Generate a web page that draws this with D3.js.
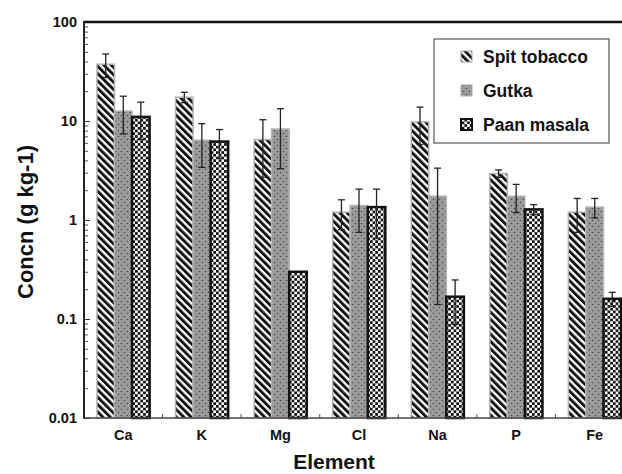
<!DOCTYPE html>
<html>
<head>
<meta charset="utf-8">
<script src="https://cdn.jsdelivr.net/npm/d3@7"></script>
<style>
  body { margin: 0; background: #fff; }
  svg { display: block; font-family: "Liberation Sans", Arial, sans-serif; }
</style>
</head>
<body>
<svg id="chart" width="622" height="474"></svg>
<script>
// data
const elements = ["Ca", "K", "Mg", "Cl", "Na", "P", "Fe"];
const series = ["Spit tobacco", "Gutka", "Paan masala"];
const spitTobacco = [37.5, 17.4, 6.5, 1.2, 9.8, 2.95, 1.2];
const spitErr = [10, 2.1, 3.8, 0.4, 4, 0.25, 0.45];
const gutka = [12.6, 6.4, 8.3, 1.4, 1.74, 1.74, 1.35];
const gutkaErr = [5.2, 3, 5, 0.65, 1.6, 0.55, 0.3];
const paanMasala = [11, 6.2, 0.3, 1.35, 0.168, 1.28, 0.16];
const paanErr = [4.5, 2, 0, 0.7, 0.08, 0.15, 0.026];
const yTicks = [0.01, 0.1, 1, 10, 100];

const values = [spitTobacco, gutka, paanMasala];
const errors = [spitErr, gutkaErr, paanErr];

const svg = d3.select("#chart");
const margin = {top: 22, left: 84, bottom: 56};
const plotRight = 634;   // frame runs past the picture's right edge
const height = 474 - margin.bottom;

// PATTERNS
const defs = svg.append("defs");
const stripes = defs.append("pattern")
  .attr("id", "stripes").attr("patternUnits", "userSpaceOnUse")
  .attr("width", 5.2).attr("height", 5.2)
  .attr("patternTransform", "rotate(-45)");
stripes.append("rect").attr("width", 5.2).attr("height", 5.2).attr("fill", "#fff");
stripes.append("rect").attr("width", 2.9).attr("height", 5.2).attr("fill", "#111");

const dots = defs.append("pattern")
  .attr("id", "dots").attr("patternUnits", "userSpaceOnUse")
  .attr("width", 6).attr("height", 6);
dots.append("rect").attr("width", 6).attr("height", 6).attr("fill", "#9b9b9b");
dots.append("circle").attr("cx", 1.5).attr("cy", 1.5).attr("r", 0.8).attr("fill", "#4a4a4a");
dots.append("circle").attr("cx", 4.5).attr("cy", 4.5).attr("r", 0.8).attr("fill", "#4a4a4a");

const checks = defs.append("pattern")
  .attr("id", "checks").attr("patternUnits", "userSpaceOnUse")
  .attr("width", 5.4).attr("height", 5.4);
checks.append("rect").attr("width", 5.4).attr("height", 5.4).attr("fill", "#fff");
checks.append("rect").attr("width", 2.7).attr("height", 2.7).attr("fill", "#111");
checks.append("rect").attr("x", 2.7).attr("y", 2.7).attr("width", 2.7).attr("height", 2.7).attr("fill", "#111");

const fills = ["url(#stripes)", "url(#dots)", "url(#checks)"];
const strokes = ["#b4b4b4", "#b4b4b4", "#111"];
const strokeW = [1.5, 1.5, 2.5];

// SCALES
const x0 = d3.scaleBand().domain(elements).range([margin.left, plotRight]);
const bw = x0.bandwidth();
const x1 = d3.scaleBand().domain(series).range([bw * 0.165, bw * 0.835]);
const y = d3.scaleLog().domain([0.01, 100]).range([height, margin.top]);

// BARS
series.forEach((s, si) => {
  const g = svg.append("g");
  g.selectAll("rect").data(elements).join("rect")
    .attr("x", d => x0(d) + x1(s))
    .attr("y", (d, i) => y(values[si][i]))
    .attr("width", x1.bandwidth())
    .attr("height", (d, i) => height - y(values[si][i]))
    .attr("fill", fills[si])
    .attr("stroke", strokes[si])
    .attr("stroke-width", strokeW[si]);
});

// ERROR BARS
series.forEach((s, si) => {
  elements.forEach((d, i) => {
    const e = errors[si][i];
    if (!e) return;
    const cx = x0(d) + x1(s) + x1.bandwidth() / 2;
    const v = values[si][i];
    const lo = y(Math.max(v - e, 0.01)), hi = y(v + e);
    const g = svg.append("g").attr("stroke", "#222").attr("stroke-width", 1.3);
    g.append("line").attr("x1", cx).attr("x2", cx).attr("y1", lo).attr("y2", hi);
    g.append("line").attr("x1", cx - 3.5).attr("x2", cx + 3.5).attr("y1", hi).attr("y2", hi);
    g.append("line").attr("x1", cx - 3.5).attr("x2", cx + 3.5).attr("y1", lo).attr("y2", lo);
  });
});

// Y AXIS
const minor = [];
for (let p = -2; p < 2; p++) for (let m = 2; m <= 9; m++) minor.push(m * Math.pow(10, p));
svg.append("g").attr("transform", `translate(${margin.left},0)`)
  .call(d3.axisLeft(y).tickValues(minor).tickSize(-4).tickFormat(""))
  .call(g => g.select(".domain").remove())
  .selectAll("line").attr("stroke", "#555");
svg.append("g").attr("transform", `translate(${margin.left},0)`)
  .call(d3.axisLeft(y).tickValues(yTicks).tickSize(-6).tickPadding(7)
    .tickFormat(d => String(d)))
  .call(g => g.select(".domain").remove())
  .call(g => g.selectAll("line").attr("stroke", "#333"))
  .selectAll("text")
  .attr("font-size", 14.5).attr("font-weight", "bold").attr("fill", "#111")
  .attr("font-family", "Liberation Sans, Arial, sans-serif");

// X AXIS
svg.append("g").attr("transform", `translate(0,${height})`)
  .call(d3.axisBottom(x0).tickSize(0).tickPadding(12))
  .call(g => g.select(".domain").remove())
  .selectAll("text")
  .attr("font-size", 14.5).attr("font-weight", "bold").attr("fill", "#111")
  .attr("font-family", "Liberation Sans, Arial, sans-serif");
svg.append("g").selectAll("line").data(elements.slice(1)).join("line")
  .attr("x1", d => x0(d)).attr("x2", d => x0(d))
  .attr("y1", height).attr("y2", height - 4)
  .attr("stroke", "#555");

// FRAME
svg.append("line").attr("x1", margin.left).attr("x2", plotRight)
  .attr("y1", height).attr("y2", height).attr("stroke", "#444").attr("stroke-width", 1.5);
svg.append("line").attr("x1", margin.left).attr("x2", plotRight)
  .attr("y1", margin.top).attr("y2", margin.top).attr("stroke", "#111").attr("stroke-width", 2.5);
svg.append("line").attr("x1", margin.left).attr("x2", margin.left)
  .attr("y1", margin.top - 1).attr("y2", height + 0.75).attr("stroke", "#222").attr("stroke-width", 2);

// AXIS TITLES
svg.append("text")
  .attr("x", 334).attr("y", 469)
  .attr("text-anchor", "middle").attr("font-size", 21).attr("font-weight", "bold").attr("fill", "#111")
  .text("Element");
svg.append("text")
  .attr("transform", "translate(33,222) rotate(-90)")
  .attr("text-anchor", "middle").attr("font-size", 22).attr("font-weight", "bold").attr("fill", "#111")
  .text("Concn (g kg-1)");

// LEGEND
const legend = svg.append("g");
legend.append("rect")
  .attr("x", 434).attr("y", 39).attr("width", 175).attr("height", 104)
  .attr("fill", "#fff").attr("stroke", "#555").attr("stroke-width", 1.2);
series.forEach((s, si) => {
  const ly = 63 + si * 34;
  legend.append("rect")
    .attr("x", 461).attr("y", ly - 12).attr("width", 11).attr("height", 11)
    .attr("fill", fills[si]).attr("stroke", si === 2 ? "#111" : "#aaa").attr("stroke-width", si === 2 ? 2 : 1);
  legend.append("text")
    .attr("x", 483).attr("y", ly)
    .attr("font-size", 17.5).attr("font-weight", "bold").attr("fill", "#111")
    .text(s);
});
</script>
</body>
</html>
